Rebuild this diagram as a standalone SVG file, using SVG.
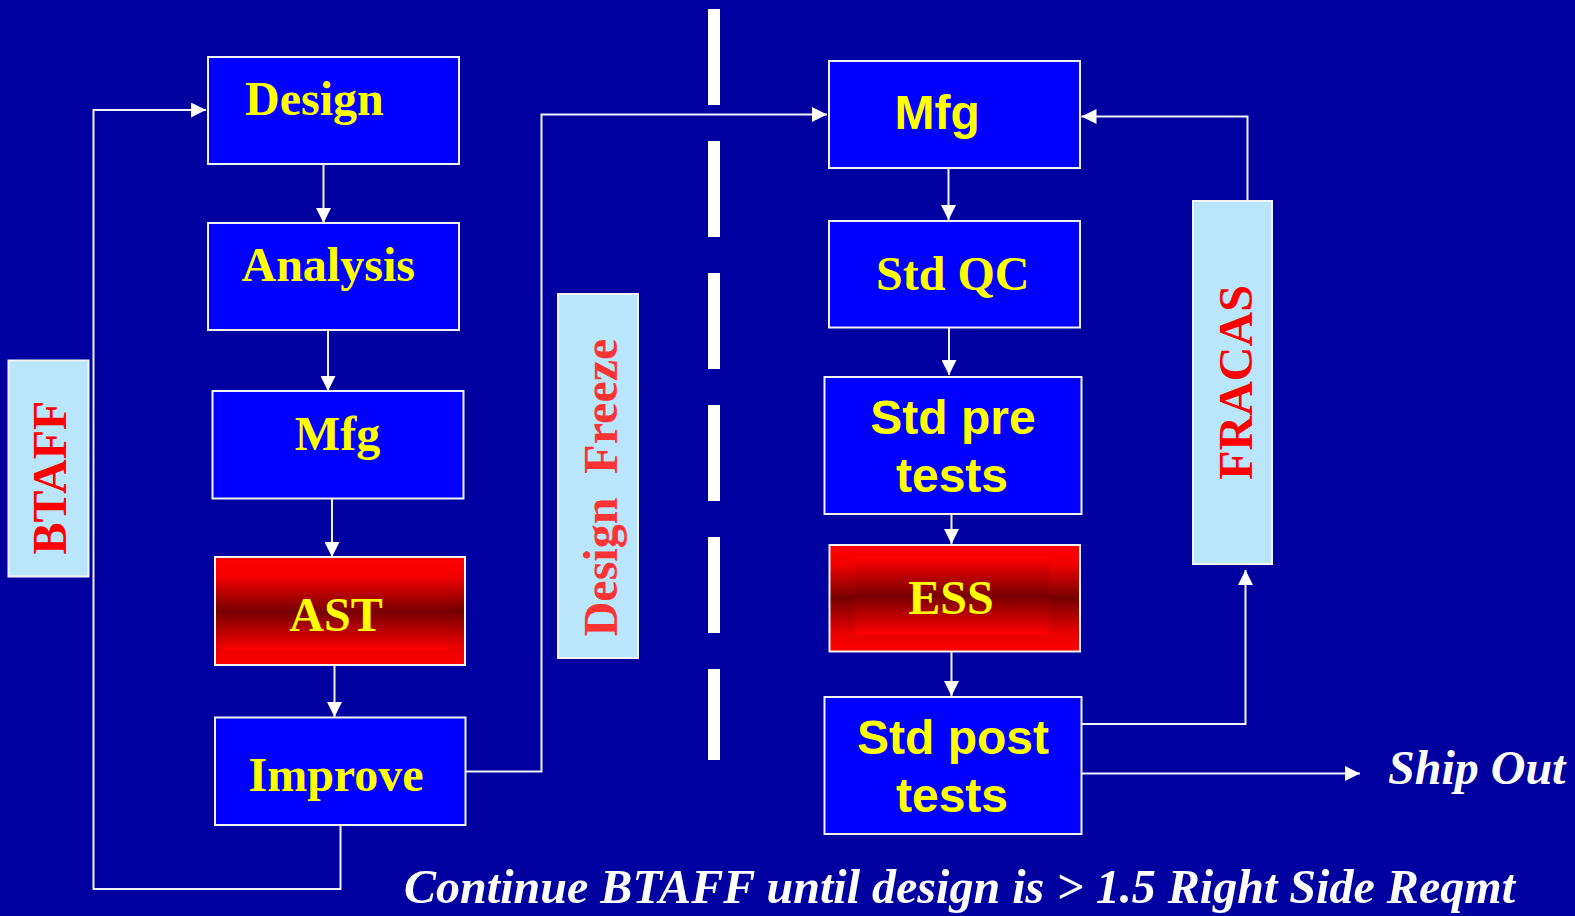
<svg xmlns="http://www.w3.org/2000/svg" width="1575" height="916" viewBox="0 0 1575 916">
<style>
.box{fill:#0000FF;stroke:#F2F2F2;stroke-width:2}
.lbox{fill:#B9E6FB;stroke:#F2F2F2;stroke-width:2}
.tr{font-family:"Liberation Serif","Times New Roman",serif;font-weight:bold;font-size:48px;fill:#FFFF00}
.ta{font-family:"Liberation Sans",Arial,sans-serif;font-weight:bold;font-size:48px;fill:#FFFF00}
.rot{font-family:"Liberation Serif","Times New Roman",serif;font-weight:bold;font-size:48px;fill:#FF0000}
.it{font-family:"Liberation Serif","Times New Roman",serif;font-weight:bold;font-style:italic;font-size:48px;fill:#FFFFFF}
.conn{fill:none;stroke:#F2F2F2;stroke-width:2}
.arr{marker-end:url(#ah)}
</style>
<defs>
<marker id="ah" markerUnits="userSpaceOnUse" markerWidth="15" markerHeight="15" refX="15" refY="7.5" orient="auto">
<path d="M0,0 L15,7.5 L0,15 Z" fill="#FFFFFF"/>
</marker>
<linearGradient id="rOuter" x1="0" y1="0" x2="0" y2="1">
<stop offset="0" stop-color="#FF0000"/>
<stop offset="0.18" stop-color="#F20000"/>
<stop offset="0.5" stop-color="#760000"/>
<stop offset="0.82" stop-color="#E60000"/>
<stop offset="1" stop-color="#FF0000"/>
</linearGradient>
<linearGradient id="rInner" x1="0" y1="0" x2="0" y2="1">
<stop offset="0" stop-color="#FF0000"/>
<stop offset="0.5" stop-color="#780000"/>
<stop offset="1" stop-color="#FF0000"/>
</linearGradient>
</defs>
<rect x="0" y="0" width="1575" height="916" fill="#0000A0"/>

<g id="separator">
<line x1="714" y1="9" x2="714" y2="760" stroke="#FFFFFF" stroke-width="12" stroke-dasharray="96 36"/>
</g>

<g id="connectors">
<line class="conn arr" x1="323.5" y1="164" x2="323.5" y2="223"/>
<line class="conn arr" x1="328" y1="330" x2="328" y2="391"/>
<line class="conn arr" x1="332" y1="499" x2="332" y2="557"/>
<line class="conn arr" x1="334.5" y1="665" x2="334.5" y2="717"/>
<polyline class="conn arr" points="340.5,825 340.5,889 93.5,889 93.5,110 206,110"/>
<polyline class="conn arr" points="462.5,771.5 541.5,771.5 541.5,114.5 827,114.5"/>
<line class="conn arr" x1="948.5" y1="168" x2="948.5" y2="220"/>
<line class="conn arr" x1="949" y1="327.5" x2="949" y2="375"/>
<line class="conn arr" x1="951.5" y1="514" x2="951.5" y2="544"/>
<line class="conn arr" x1="951.5" y1="652" x2="951.5" y2="696"/>
<polyline class="conn arr" points="1081,724 1245.5,724 1245.5,570"/>
<polyline class="conn arr" points="1247.5,206 1247.5,116.5 1081.5,116.5"/>
<line class="conn arr" x1="1081" y1="773.5" x2="1360" y2="773.5"/>
</g>

<g id="btaff">
<rect class="lbox" x="8.5" y="360.5" width="80" height="216"/>
<text class="rot" text-anchor="middle" transform="translate(66,477.5) rotate(-90)">BTAFF</text>
</g>

<g id="design">
<rect class="box" x="208" y="57" width="251" height="107"/>
<text class="tr" x="245" y="115">Design</text>
</g>

<g id="analysis">
<rect class="box" x="208" y="223" width="251" height="107"/>
<text class="tr" x="241.5" y="280.5">Analysis</text>
</g>

<g id="mfg-left">
<rect class="box" x="212.5" y="391" width="251" height="107.5"/>
<text class="tr" x="337.5" y="450" text-anchor="middle">Mfg</text>
</g>

<g id="ast">
<rect x="215" y="557" width="250" height="108" fill="url(#rOuter)" stroke="#F2F2F2" stroke-width="2"/>
<rect x="223" y="573" width="225" height="78" fill="url(#rInner)"/>
<text class="tr" x="336" y="630.5" text-anchor="middle">AST</text>
</g>

<g id="improve">
<rect class="box" x="215" y="717.5" width="250.5" height="107.5"/>
<text class="tr" x="248.5" y="791">Improve</text>
</g>

<g id="design-freeze">
<rect class="lbox" x="558" y="294" width="80" height="364"/>
<text class="rot" fill="#FF3333" style="fill:#FF3333" xml:space="preserve" text-anchor="middle" transform="translate(617,487.5) rotate(-90)">Design  Freeze</text>
</g>

<g id="mfg-right">
<rect class="box" x="829" y="61" width="251" height="107"/>
<text class="ta" x="894.5" y="129">Mfg</text>
</g>

<g id="std-qc">
<rect class="box" x="829" y="221" width="251" height="106.5"/>
<text class="tr" x="876" y="290">Std QC</text>
</g>

<g id="std-pre-tests">
<rect class="box" x="824.5" y="377" width="257" height="137"/>
<text class="ta" x="953" y="434" text-anchor="middle">Std pre</text>
<text class="ta" x="952" y="491.5" text-anchor="middle">tests</text>
</g>

<g id="ess">
<rect x="829.5" y="545" width="250.5" height="106.5" fill="url(#rOuter)" stroke="#F2F2F2" stroke-width="2"/>
<rect x="855" y="557" width="194" height="78" fill="url(#rInner)"/>
<text class="tr" x="951" y="613.5" text-anchor="middle">ESS</text>
</g>

<g id="std-post-tests">
<rect class="box" x="824.5" y="697" width="257" height="137"/>
<text class="ta" x="953" y="753.5" text-anchor="middle">Std post</text>
<text class="ta" x="952" y="811.5" text-anchor="middle">tests</text>
</g>

<g id="fracas">
<rect class="lbox" x="1193" y="201" width="79" height="363"/>
<text class="rot" text-anchor="middle" transform="translate(1251.5,382.5) rotate(-90)">FRACAS</text>
</g>

<g id="ship-out">
<text class="it" x="1388" y="784">Ship Out</text>
</g>

<g id="note">
<text class="it" x="404" y="903" textLength="1111" lengthAdjust="spacingAndGlyphs">Continue BTAFF until design is &gt; 1.5 Right Side Reqmt</text>
</g>
</svg>
